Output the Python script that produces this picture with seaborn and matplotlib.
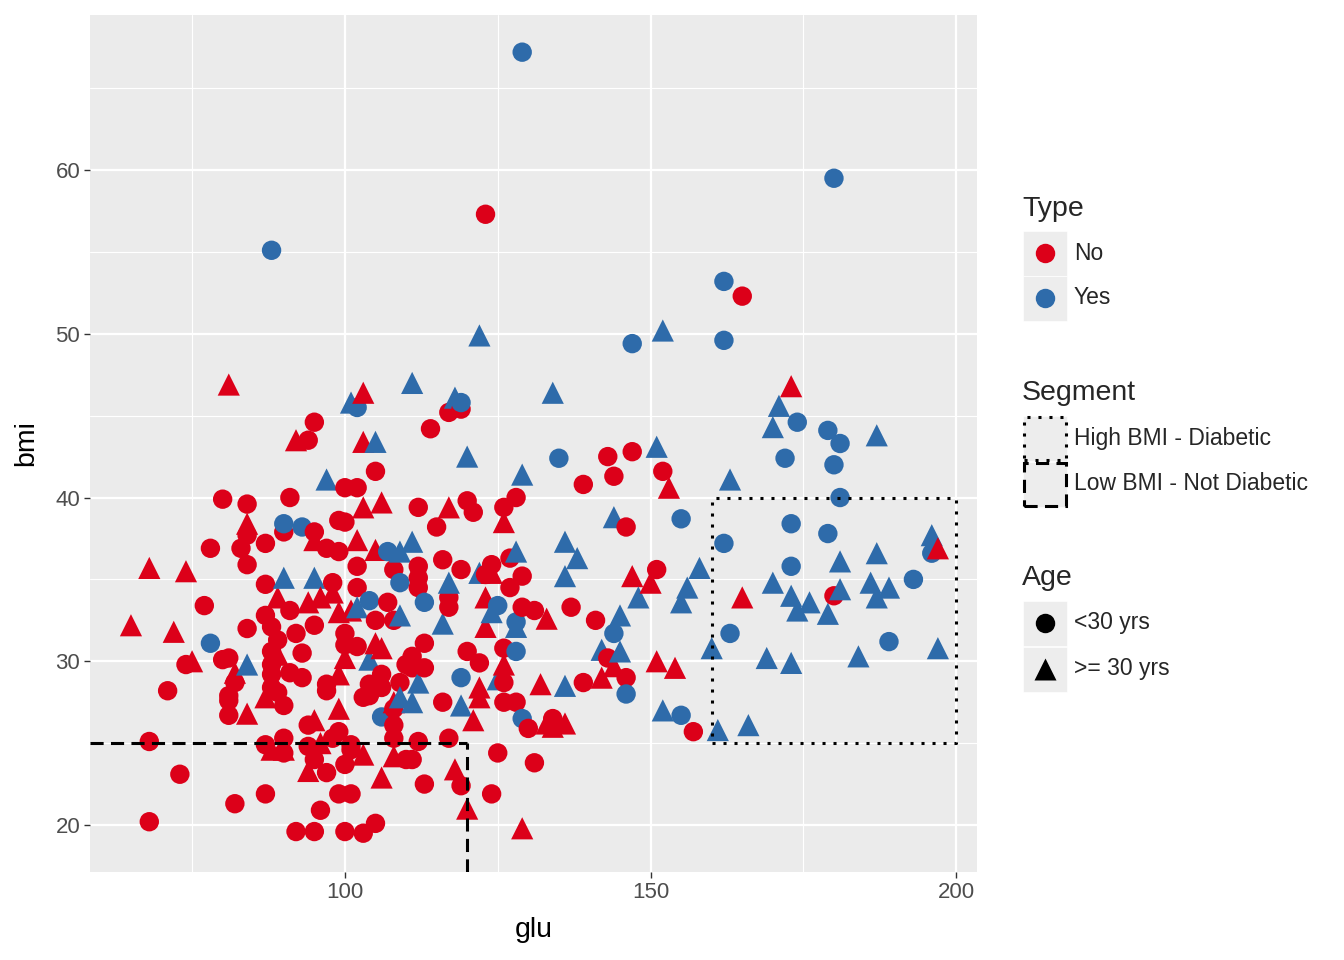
import matplotlib.pyplot as plt
import matplotlib.patches as mpatches
from matplotlib.lines import Line2D
import pandas as pd
import seaborn as sns

# Type = No, Age < 30
no_young_glu = [123, 165, 143, 147, 144, 139, 152, 146, 137, 141, 143, 146, 139, 157, 151, 134,
                180, 95, 94, 105, 100, 102, 91, 84, 99, 100, 90, 95, 80,
                117, 119, 114, 112, 120, 121, 128, 126, 115,
                78, 83, 84, 84, 77, 84, 74, 80, 81, 82, 71,
                81, 81, 81, 68, 73, 82, 68,
                87, 97, 99, 108, 102, 102, 87, 98, 91, 87, 107, 105, 108, 95, 88, 92, 89, 100,
                100, 102, 93, 88, 88, 91, 93, 88, 97, 106, 109, 104, 110,
                127, 116, 112, 119, 124, 123, 129, 112, 112, 127, 117, 117, 129, 131, 113, 111,
                113, 111, 120, 122, 126, 126,
                88, 89, 90, 97, 103, 104, 106, 108, 108, 108, 94, 99, 98, 87, 90, 90, 94, 95, 97,
                101, 100, 101, 110, 87, 99, 101, 96, 92, 95, 100, 103, 105,
                116, 126, 128, 130, 134, 112, 117, 111, 125, 131, 113, 119, 124]
no_young_bmi = [57.3, 52.3, 42.5, 42.8, 41.3, 40.8, 41.6, 38.2, 33.3, 32.5, 30.2, 29.0, 28.7, 25.7, 35.6, 26.4,
                34.0, 44.6, 43.5, 41.6, 40.6, 40.6, 40.0, 39.6, 38.6, 38.5, 37.9, 37.9, 39.9,
                45.2, 45.4, 44.2, 39.4, 39.8, 39.1, 40.0, 39.4, 38.2,
                36.9, 36.9, 37.7, 35.9, 33.4, 32.0, 29.8, 30.1, 30.2, 28.7, 28.2,
                27.9, 27.6, 26.7, 25.1, 23.1, 21.3, 20.2,
                37.2, 36.9, 36.7, 35.6, 35.8, 34.5, 34.7, 34.8, 33.1, 32.8, 33.6, 32.5, 32.5, 32.2, 32.1, 31.7, 31.3, 31.7,
                31.0, 30.9, 30.5, 30.6, 29.8, 29.3, 29.0, 29.2, 28.6, 29.2, 28.7, 28.6, 29.8,
                36.3, 36.2, 35.8, 35.6, 35.9, 35.3, 35.2, 35.1, 34.5, 34.5, 33.9, 33.3, 33.3, 33.1, 31.1, 30.3,
                29.6, 29.6, 30.6, 29.9, 30.8, 28.7,
                28.4, 28.1, 27.3, 28.2, 27.8, 27.9, 28.4, 27.1, 26.1, 25.3, 26.1, 25.7, 25.3, 24.9, 25.3, 24.4, 24.8, 24.0, 23.2,
                24.6, 23.7, 24.9, 24.0, 21.9, 21.9, 21.9, 20.9, 19.6, 19.6, 19.6, 19.5, 20.1,
                27.5, 27.5, 27.5, 25.9, 26.5, 25.1, 25.3, 24.0, 24.4, 23.8, 22.5, 22.4, 21.9]

# Type = No, Age >= 30
no_old_glu = [81, 173, 197, 165, 153, 147, 150, 142, 144, 151, 154, 136, 133,
              103, 92, 103, 103, 106, 84, 117, 126, 68, 74, 65, 72, 75, 82, 84,
              95, 102, 105, 89, 94, 96, 98, 99, 101, 105, 106, 89, 100, 99,
              124, 123, 133, 123, 126, 122, 132,
              87, 99, 108, 95, 88, 90, 96, 94, 103, 106, 108,
              122, 121, 134, 118, 120, 129]
no_old_bmi = [46.9, 46.8, 36.9, 33.9, 40.6, 35.2, 34.8, 29.0, 29.7, 30.0, 29.6, 26.2, 26.2,
              46.4, 43.5, 43.4, 39.4, 39.7, 38.4, 39.4, 38.5, 35.7, 35.5, 32.2, 31.8, 30.0, 29.3, 26.8,
              37.4, 37.4, 36.8, 33.9, 33.6, 33.9, 34.2, 33.0, 33.1, 31.1, 30.8, 30.4, 30.2, 29.2,
              35.4, 33.9, 32.6, 32.1, 29.8, 28.4, 28.6,
              27.8, 27.1, 27.5, 26.4, 24.6, 24.6, 25.0, 23.3, 24.3, 22.9, 24.2,
              27.8, 26.4, 26.0, 23.4, 21.0, 19.8]

# Type = Yes, Age < 30
yes_young_glu = [129, 180, 88, 162, 162, 147, 174, 179, 181, 172, 180, 181, 173, 179, 162, 196,
                 173, 193, 163, 189, 135, 155, 144, 146, 155, 102, 90, 93, 119, 78,
                 107, 109, 104, 113, 125, 128, 128, 119, 106, 129]
yes_young_bmi = [67.2, 59.5, 55.1, 53.2, 49.6, 49.4, 44.6, 44.1, 43.3, 42.4, 42.0, 40.0, 38.4, 37.8, 37.2, 36.6,
                 35.8, 35.0, 31.7, 31.2, 42.4, 38.7, 31.7, 28.0, 26.7, 45.5, 38.4, 38.2, 45.8, 31.1,
                 36.7, 34.8, 33.7, 33.6, 33.4, 32.4, 30.6, 29.0, 26.6, 26.5]

# Type = Yes, Age >= 30
yes_old_glu = [152, 122, 171, 170, 187, 163, 196, 187, 181, 158, 170, 186, 189, 187, 173, 176, 174,
               181, 179, 160, 169, 173, 184, 197, 161, 166,
               134, 151, 144, 136, 138, 136, 148, 156, 155, 145, 142, 145, 136, 152,
               101, 111, 105, 97, 118, 120, 129, 111, 84,
               109, 90, 95, 102, 109, 104, 128, 122, 117, 116, 124, 128, 125, 112, 109, 111, 119]
yes_old_bmi = [50.2, 49.9, 45.6, 44.3, 43.8, 41.1, 37.7, 36.6, 36.1, 35.7, 34.8, 34.8, 34.5, 33.9, 34.0, 33.6, 33.1,
               34.4, 32.9, 30.8, 30.2, 29.9, 30.3, 30.8, 25.8, 26.1,
               46.4, 43.1, 38.8, 37.3, 36.3, 35.2, 33.9, 34.5, 33.6, 32.8, 30.7, 30.6, 28.5, 27.0,
               45.8, 47.0, 43.4, 41.1, 46.1, 42.5, 41.4, 37.3, 29.8,
               36.7, 35.1, 35.1, 33.3, 32.8, 30.1, 36.7, 35.4, 34.8, 32.3, 33.0, 32.1, 28.9, 28.7, 27.8, 27.5, 27.3]

type_colors = {'No': '#DC0019', 'Yes': '#2E6BAA'}
age_labels = ['<30 yrs', '>= 30 yrs']

frames = []
for g, b, t, a in [(no_young_glu, no_young_bmi, 'No', '<30 yrs'),
                   (no_old_glu, no_old_bmi, 'No', '>= 30 yrs'),
                   (yes_young_glu, yes_young_bmi, 'Yes', '<30 yrs'),
                   (yes_old_glu, yes_old_bmi, 'Yes', '>= 30 yrs')]:
    frames.append(pd.DataFrame({'glu': g, 'bmi': b, 'Type': t, 'Age': a}))
df = pd.concat(frames, ignore_index=True).sort_values('glu', kind='stable')

sns.set_style('darkgrid', {'axes.facecolor': '#EBEBEB', 'grid.color': 'white'})
plt.rcParams['font.family'] = ['Liberation Sans', 'DejaVu Sans']

W, H = 1344, 960
fig = plt.figure(figsize=(W / 100, H / 100), dpi=100)
ax = fig.add_axes([90 / W, 88 / H, 887 / W, 857 / H])

sns.scatterplot(data=df, x='glu', y='bmi', hue='Type', style='Age', size='Age',
                palette=type_colors, markers={'<30 yrs': 'o', '>= 30 yrs': '^'},
                sizes={'<30 yrs': 195, '>= 30 yrs': 255}, linewidth=0,
                legend=False, ax=ax, zorder=3)

xlo, xhi = 58.3, 203.4
ylo, yhi = 17.13, 69.47
ax.set_xlim(xlo, xhi)
ax.set_ylim(ylo, yhi)
ax.set_xticks([100, 150, 200])
ax.set_yticks([20, 30, 40, 50, 60])
ax.set_xticks([75, 125, 175], minor=True)
ax.set_yticks([25, 35, 45, 55, 65], minor=True)
ax.grid(which='major', color='white', lw=1.6)
ax.grid(which='minor', color='white', lw=0.8)
ax.set_axisbelow(True)
for s in ax.spines.values():
    s.set_visible(False)
ax.tick_params(which='major', length=4, width=1, color='#333333', labelcolor='#4D4D4D',
               labelsize=16, pad=3, bottom=True, left=True)
ax.tick_params(which='minor', length=0)
ax.set_xlabel('glu', fontsize=20.5, color='black', labelpad=10)
ax.set_ylabel('bmi', fontsize=20.5, color='black', labelpad=12)

# segment boxes
dash_kw = dict(color='black', lw=2.2, dashes=(4.3, 2.4), solid_capstyle='butt', zorder=4)
ax.plot([xlo, 120], [25, 25], **dash_kw)
ax.plot([120, 120], [ylo, 25], **dash_kw)
dot_kw = dict(color='black', lw=2.2, dashes=(1, 2.6), zorder=4)
ax.plot([160, 200, 200, 160, 160], [25, 25, 40, 40, 25], **dot_kw)


def fx(px):
    return px / W


def fy(py):
    return 1 - py / H


key_x0, key_w, key_h = 1023, 44, 45
txt_x = 1074


def key_box(cy):
    fig.add_artist(mpatches.Rectangle((fx(key_x0), fy(cy + key_h / 2)), key_w / W, key_h / H,
                                      transform=fig.transFigure, facecolor='#EDEDED',
                                      edgecolor='white', lw=0.5))


def title(py, s):
    fig.text(fx(1022), fy(py), s, fontsize=20.5, ha='left', va='center')


def label(py, s):
    fig.text(fx(txt_x), fy(py), s, fontsize=16.5, ha='left', va='center')


title(209, 'Type')
for cy, t in zip([253, 298], ['No', 'Yes']):
    key_box(cy)
    fig.add_artist(Line2D([fx(1045)], [fy(cy)], marker='o', ms=14, color=type_colors[t],
                          mec='none', transform=fig.transFigure))
    label(cy, t)

title(393, 'Segment')
for cy, lab, ls in zip([438, 484], ['High BMI - Diabetic', 'Low BMI - Not Diabetic'],
                       [(0, (1, 2.6)), (0, (4.3, 2.4))]):
    key_box(cy)
    fig.add_artist(mpatches.Rectangle((fx(key_x0 + 1), fy(cy + key_h / 2 - 1)), (key_w - 2) / W,
                                      (key_h - 2) / H, transform=fig.transFigure,
                                      fill=False, edgecolor='black', lw=2.2, linestyle=ls))
    label(cy, lab)

title(578, 'Age')
for cy, a, m, ms in zip([623, 669], age_labels, ['o', '^'], [14, 16]):
    key_box(cy)
    fig.add_artist(Line2D([fx(1045)], [fy(cy)], marker=m, ms=ms, color='black',
                          mec='none', transform=fig.transFigure))
    label(cy, a)

fig.savefig('out.png', dpi=100)
